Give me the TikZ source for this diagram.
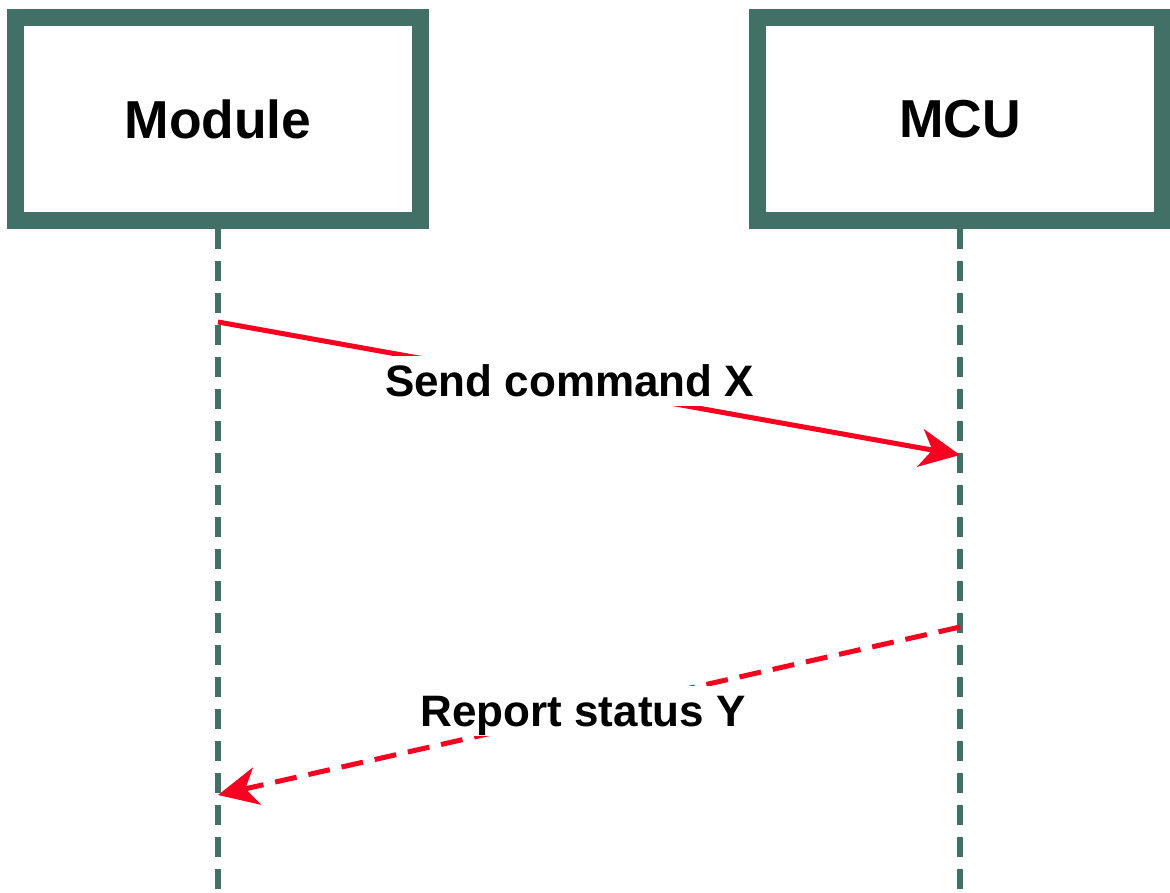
\documentclass[tikz,border=0pt]{standalone}
\usepackage{fontspec}
\setmainfont{Liberation Sans}
\usetikzlibrary{arrows.meta}
\definecolor{lanegreen}{RGB}{64,112,102}
\definecolor{msgred}{RGB}{250,0,32}
\tikzset{
  actorbox/.style={draw=lanegreen, line width=0.425cm, fill=white,
    minimum width=10.1cm, minimum height=5.075cm,
    font=\fontsize{38}{44}\selectfont\bfseries},
  lifeline/.style={draw=lanegreen, line width=0.15cm,
    dash pattern=on 0.5cm off 0.3cm},
  msgarrow/.style={draw=msgred, line width=0.125cm,
    -{Stealth[length=1cm, width=0.95cm, inset=0.3cm]}},
  msglabel/.style={fill=white, inner xsep=0pt, inner ysep=0pt,
    text depth=0pt, minimum height=1.25cm,
    font=\fontsize{31.3}{36}\selectfont\bfseries}
}
\begin{document}
\begin{tikzpicture}[x=0.025cm,y=-0.025cm]
\useasboundingbox (0,0) rectangle (1170,893);
% the two parties
\node[actorbox] (module) at (218,119) {Module};
\node[actorbox] (mcu) at (960,119) {MCU};
% lifelines run to the bottom edge
\coordinate (moduleEnd) at (218,893);
\coordinate (mcuEnd) at (960,893);
\draw[lifeline] (module.south) -- (moduleEnd);
\draw[lifeline] (mcu.south) -- (mcuEnd);
% message end points
\coordinate (sendFrom) at (218,322);
\coordinate (sendTo) at (960,455);
\coordinate (replyFrom) at (960,627);
\coordinate (replyTo) at (218,795);
\draw[msgarrow] (sendFrom) -- node[msglabel, pos=0.474, yshift=0.1cm] (sendLabel) {Send command X} (sendTo);
\draw[msgarrow, dash pattern=on 0.55cm off 0.3cm] (replyFrom) -- node[msglabel, pos=0.508, yshift=0.03cm] (replyLabel) {Report status Y} (replyTo);
\end{tikzpicture}
\end{document}
